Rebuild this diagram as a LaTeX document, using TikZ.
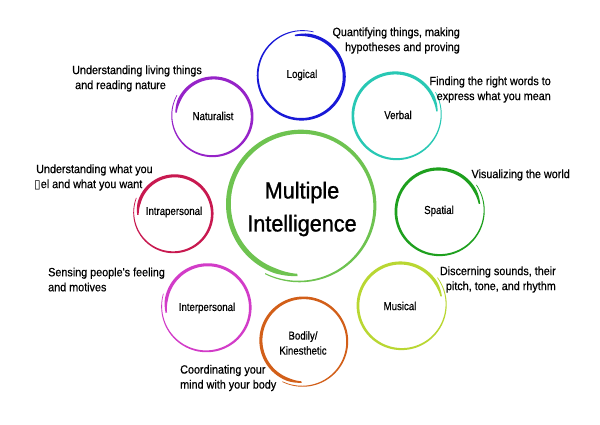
\documentclass[tikz,border=0pt]{standalone}
\usepackage{fontspec}
\setmainfont{Liberation Sans}
\newfontfamily\symfont{DejaVu Sans}
\newfontfamily\descfont[FakeStretch=0.9, FakeBold=0.5]{Liberation Sans}
\newfontfamily\labelfont[FakeStretch=0.84, FakeBold=0.5]{Liberation Sans}
\newfontfamily\titlefont[FakeStretch=0.94, FakeBold=1.2]{Liberation Sans}

\definecolor{mainring}{RGB}{110,195,80}
\definecolor{logicalc}{RGB}{25,25,215}
\definecolor{verbalc}{RGB}{40,200,180}
\definecolor{spatialc}{RGB}{30,160,30}
\definecolor{musicalc}{RGB}{185,215,50}
\definecolor{bodilyc}{RGB}{210,95,25}
\definecolor{interc}{RGB}{210,60,200}
\definecolor{intrac}{RGB}{200,25,80}
\definecolor{naturc}{RGB}{150,35,200}

% brush ring: cx, cy, radius, tip angle, direction, width, colour
\newcommand{\brushring}[7]{%
  \fill[#7] plot[domain=0:1, samples=160]
    ({#1+(#3-0.6*#6+1.4*#6*\x+0.5*#6*(0.45+0.55*min(1,\x/0.05))*(1-0.8*\x*\x))*cos(#4+(#5)*385*\x)},
     {#2+(#3-0.6*#6+1.4*#6*\x+0.5*#6*(0.45+0.55*min(1,\x/0.05))*(1-0.8*\x*\x))*sin(#4+(#5)*385*\x)})
    -- plot[domain=1:0, samples=160]
    ({#1+(#3-0.6*#6+1.4*#6*\x-0.5*#6*(0.45+0.55*min(1,\x/0.05))*(1-0.8*\x*\x))*cos(#4+(#5)*385*\x)},
     {#2+(#3-0.6*#6+1.4*#6*\x-0.5*#6*(0.45+0.55*min(1,\x/0.05))*(1-0.8*\x*\x))*sin(#4+(#5)*385*\x)})
    -- cycle;
}

\tikzset{
  desc/.style={font=\descfont\fontsize{12}{15}\selectfont, inner sep=0pt},
  ringlabel/.style={font=\labelfont\fontsize{11.5}{15}\selectfont, inner sep=0pt, align=center}
}

\begin{document}
\begin{tikzpicture}[x=1pt, y=1pt]
  \useasboundingbox[fill=white] (0,0) rectangle (600,425);

  % rings
  \brushring{300}{220}{73}{268}{-1}{5}{mainring}
  \brushring{302}{349}{43}{100}{-1}{3.2}{logicalc}
  \brushring{396}{310}{43}{5}{1}{3.2}{verbalc}
  \brushring{439}{214}{43}{10}{1}{3.2}{spatialc}
  \brushring{401}{120}{43}{12}{1}{3.2}{musicalc}
  \brushring{303}{84}{43}{268}{-1}{3.2}{bodilyc}
  \brushring{207}{118}{43}{188}{-1}{3.2}{interc}
  \brushring{174}{212}{38}{183}{-1}{3.2}{intrac}
  \brushring{213}{309}{39}{175}{-1}{3.2}{naturc}

  % labels inside the rings
  \node[font=\titlefont\fontsize{23}{33}\selectfont, align=center] (mi) at (302,216) {Multiple\\Intelligence};
  \node[ringlabel] (logical) at (302,350) {Logical};
  \node[ringlabel] (verbal) at (398,310) {Verbal};
  \node[ringlabel] (spatial) at (439,214) {Spatial};
  \node[ringlabel] (musical) at (400,119) {Musical};
  \node[ringlabel] (bodily) at (303,82) {Bodily/\\Kinesthetic};
  \node[ringlabel] (inter) at (207,117) {Interpersonal};
  \node[ringlabel] (intra) at (174,213) {Intrapersonal};
  \node[ringlabel] (natur) at (213,309) {Naturalist};

  % descriptions
  \node[desc, anchor=west, align=left] (naturdesc) at (72,346.5) {Understanding living things\\\hspace{3pt}and reading nature};
  \node[desc, anchor=west, align=left] (intradesc) at (34,247.5) {\hspace{2pt}Understanding what you\\{\symfont ▯}el and what you want};
  \node[desc, anchor=west, align=left] (interdesc) at (48,145.5) {Sensing people's feeling\\and motives};
  \node[desc, anchor=west, align=left] (bodilydesc) at (180,47) {Coordinating your\\mind with your body};
  \node[desc, anchor=east, align=right] (logicaldesc) at (460,384.5) {Quantifying things, making\\hypotheses and proving};
  \node[desc, anchor=east, align=right] (verbaldesc) at (551,335.5) {Finding the right words to\\express what you mean};
  \node[desc, anchor=east] (spatialdesc) at (570,250) {Visualizing the world};
  \node[desc, anchor=east, align=right] (musicaldesc) at (556,145.5) {Discerning sounds, their\\pitch, tone, and rhythm};
\end{tikzpicture}
\end{document}
